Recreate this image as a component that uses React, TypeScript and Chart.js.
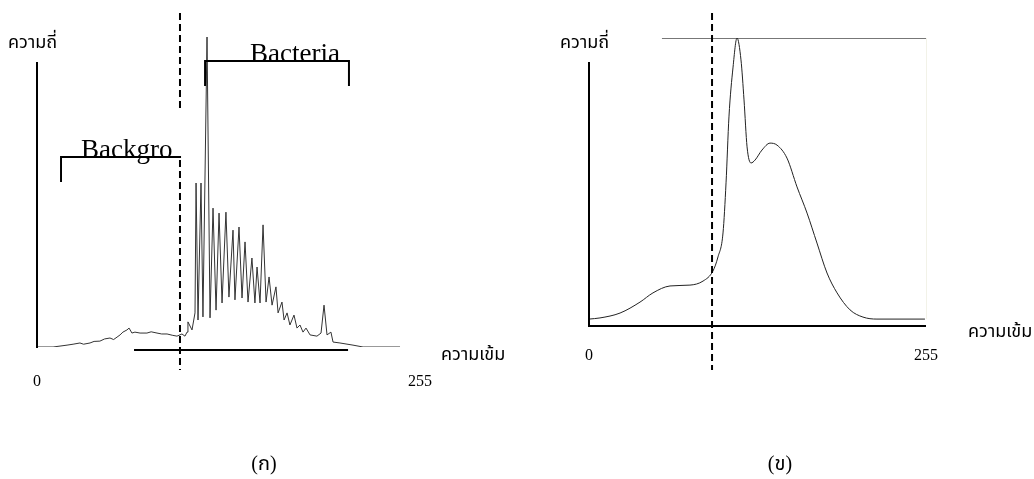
import React, { useEffect, useRef } from "react";
import { Chart, registerables } from "chart.js";
Chart.register(...registerables);

// ---------- data ----------
// Panel (ก): raw grey-level histogram
const rawIntensity = [0, 10.7, 20, 24, 28.6, 31, 35.3, 38, 41.9, 45, 48.6, 51, 53.3, 55.3, 57.2, 59.9, 61.3, 63.2, 65.2, 68.6, 73.2, 76, 79.9, 83, 86.6, 90, 93.2, 96.5, 98.5, 99.9, 100.5, 103.2, 105.2, 105.9, 107.2, 109.2, 110.5, 113.2, 115.2, 117.2, 119.2, 121.2, 123.2, 125.8, 127.8, 130.5, 131.8, 134.5, 136.5, 138.5, 140.5, 143.1, 145.1, 146.5, 148.5, 150.5, 152.5, 154.5, 156.5, 159.1, 160.5, 163.1, 164.5, 166.5, 168.4, 171.1, 173.1, 175.1, 177.1, 179.1, 181.8, 186.4, 189.1, 191.1, 193.1, 195.7, 197.1, 201.7, 210.4, 217.1, 241.7];
const rawFrequency = [0, 0, 0.6, 0.9, 1.3, 0.9, 1.3, 1.8, 1.9, 2.6, 2.9, 2.4, 3.2, 3.9, 4.8, 5.5, 6.1, 4.5, 4.8, 4.5, 4.5, 4.9, 4.5, 4.2, 4.2, 3.8, 3.5, 4.2, 3.5, 4.8, 8.1, 5.5, 11.0, 52.9, 8.7, 52.9, 9.7, 100, 9.4, 44.8, 11.9, 43.2, 14.2, 43.5, 16.1, 37.7, 15.2, 38.7, 15.8, 33.9, 14.5, 28.7, 14.2, 25.8, 14.2, 39.4, 14.5, 22.6, 13.5, 19.4, 11.0, 14.5, 8.7, 11.0, 7.1, 10.3, 6.1, 7.1, 4.8, 6.1, 3.9, 3.5, 4.5, 13.5, 3.9, 4.8, 1.6, 1.3, 0.6, 0, 0];

// Panel (ข): smoothed histogram
const smoothIntensity = [0, 8.3, 23.5, 38.6, 48.4, 61.3, 76.4, 86.3, 93.8, 97.6, 101.4, 103.7, 105.9, 109, 112, 115, 117.3, 119.6, 122.6, 125.6, 130.9, 137, 142.3, 149.8, 157.4, 165, 172.5, 180.1, 187.7, 197.5, 207.3, 217.9, 254.2];
const smoothFrequency = [2.4, 2.8, 4.5, 8.3, 11.5, 13.9, 14.2, 15.6, 19.1, 24, 32.3, 49.7, 72.6, 89.9, 100, 92.4, 78.5, 62.2, 56.6, 57.6, 61.1, 63.5, 62.8, 58.3, 48.3, 39.2, 28.8, 18.4, 11.5, 5.6, 3.1, 2.4, 2.4];

const xTickValues = [0, 255];
const thresholdRaw = 95.2;
const thresholdSmooth = 93.1;
const backgroundRange = [16, 95.9];
const bacteriaRange = [111.9, 207.7];
const baseBarRange = [64.6, 207.1];
const yAxisLabel = "ความถี่";
const xAxisLabel = "ความเข้ม";
const panelLabels = ["(ก)", "(ข)"];
const regionLabels = ["Backgro", "Bacteria"];

// ---------- layout ----------
const W = 1034;
const H = 479;
const SERIF = '"Liberation Serif", "Times New Roman", serif';
const THAI = '"Noto Sans Thai", "Noto Serif Thai", "Loma", "Garuda", "Norasi", sans-serif';

function seg(ctx: CanvasRenderingContext2D, x1: number, y1: number, x2: number, y2: number) {
  ctx.beginPath();
  ctx.moveTo(x1, y1);
  ctx.lineTo(x2, y2);
  ctx.stroke();
}

const leftDecor = {
  id: "leftDecor",
  afterDraw(chart: any) {
    const ctx: CanvasRenderingContext2D = chart.ctx;
    const X = (v: number) => chart.scales.x.getPixelForValue(v);
    const Y = (v: number) => chart.scales.y.getPixelForValue(v);
    ctx.save();
    ctx.strokeStyle = "#000";
    ctx.fillStyle = "#000";
    ctx.lineWidth = 2;
    // y axis
    seg(ctx, X(0), 62, X(0), Y(0) + 1);
    // base bar
    seg(ctx, X(baseBarRange[0]), Y(0) + 3, X(baseBarRange[1]), Y(0) + 3);
    // region labels
    ctx.font = `27px ${SERIF}`;
    ctx.textAlign = "left";
    ctx.textBaseline = "alphabetic";
    ctx.fillText(regionLabels[0], 81, 158);
    ctx.fillText(regionLabels[1], 250, 62);
    // brackets
    const bgy = 157;
    seg(ctx, X(backgroundRange[0]), bgy, X(backgroundRange[1]), bgy);
    seg(ctx, X(backgroundRange[0]), bgy - 1, X(backgroundRange[0]), 182);
    const bay = 61;
    seg(ctx, X(bacteriaRange[0]), bay, X(bacteriaRange[1]), bay);
    seg(ctx, X(bacteriaRange[0]), bay - 1, X(bacteriaRange[0]), 86);
    seg(ctx, X(bacteriaRange[1]), bay - 1, X(bacteriaRange[1]), 86);
    // threshold dashed
    ctx.setLineDash([7, 4]);
    seg(ctx, X(thresholdRaw), 13, X(thresholdRaw), 108);
    seg(ctx, X(thresholdRaw), 160, X(thresholdRaw), 370);
    ctx.setLineDash([]);
    // tick labels
    ctx.font = `16px ${SERIF}`;
    ctx.textAlign = "center";
    xTickValues.forEach((v) => ctx.fillText(String(v), X(v), 386));
    // axis titles
    ctx.font = `18px ${THAI}`;
    ctx.textAlign = "left";
    ctx.fillText(yAxisLabel, 8, 48);
    ctx.fillText(xAxisLabel, 441, 360);
    // panel label
    ctx.font = `20px ${SERIF}, ${THAI}`;
    ctx.textAlign = "center";
    ctx.fillText(panelLabels[0], 264, 470);
    ctx.restore();
  },
};

const rightDecor = {
  id: "rightDecor",
  beforeDatasetsDraw(chart: any) {
    const ctx: CanvasRenderingContext2D = chart.ctx;
    const X = (v: number) => chart.scales.x.getPixelForValue(v);
    const Y = (v: number) => chart.scales.y.getPixelForValue(v);
    ctx.save();
    ctx.lineWidth = 1;
    ctx.strokeStyle = "#f2f2e8";
    seg(ctx, X(255) + 0.5, Y(100), X(255) + 0.5, Y(2.4));
    ctx.strokeStyle = "#777";
    seg(ctx, X(55.2), Y(100) + 0.5, X(255), Y(100) + 0.5);
    ctx.restore();
  },
  afterDraw(chart: any) {
    const ctx: CanvasRenderingContext2D = chart.ctx;
    const X = (v: number) => chart.scales.x.getPixelForValue(v);
    const Y = (v: number) => chart.scales.y.getPixelForValue(v);
    ctx.save();
    ctx.strokeStyle = "#000";
    ctx.fillStyle = "#000";
    ctx.lineWidth = 2;
    seg(ctx, X(0), 62, X(0), Y(0) + 1);
    seg(ctx, X(0), Y(0), X(255), Y(0));
    ctx.setLineDash([7, 4]);
    seg(ctx, X(thresholdSmooth), 13, X(thresholdSmooth), 370);
    ctx.setLineDash([]);
    ctx.font = `16px ${SERIF}`;
    ctx.textAlign = "center";
    xTickValues.forEach((v) => ctx.fillText(String(v), X(v), 360));
    ctx.font = `18px ${THAI}`;
    ctx.textAlign = "left";
    ctx.fillText(yAxisLabel, 560, 48);
    ctx.fillText(xAxisLabel, 968, 337);
    ctx.font = `20px ${SERIF}, ${THAI}`;
    ctx.textAlign = "center";
    ctx.fillText(panelLabels[1], 780, 470);
    ctx.restore();
  },
};

function makeChart(
  canvas: HTMLCanvasElement,
  xs: number[],
  ys: number[],
  pad: { left: number; right: number; top: number; bottom: number },
  smooth: boolean,
  plugin: any
) {
  return new Chart(canvas, {
    type: "line",
    data: {
      datasets: [
        {
          data: xs.map((x, i) => ({ x, y: ys[i] })),
          borderColor: smooth ? "#222" : "#333",
          borderWidth: 1,
          pointRadius: 0,
          fill: false,
          tension: smooth ? 0.4 : 0,
          cubicInterpolationMode: smooth ? "monotone" : "default",
        },
      ],
    },
    options: {
      responsive: false,
      animation: false,
      layout: { padding: pad },
      plugins: { legend: { display: false }, tooltip: { enabled: false } },
      scales: {
        x: { type: "linear", min: 0, max: 255, display: false },
        y: { type: "linear", min: 0, max: 100, display: false },
      },
    },
    plugins: [plugin],
  } as any);
}

export default function App() {
  const leftRef = useRef<HTMLCanvasElement>(null);
  const rightRef = useRef<HTMLCanvasElement>(null);
  useEffect(() => {
    const a = makeChart(leftRef.current!, rawIntensity, rawFrequency, { left: 37, right: W - 420, top: 37, bottom: H - 347 }, false, leftDecor);
    const b = makeChart(rightRef.current!, smoothIntensity, smoothFrequency, { left: 589, right: W - 926, top: 38, bottom: H - 326 }, true, rightDecor);
    return () => {
      a.destroy();
      b.destroy();
    };
  }, []);
  const cs: React.CSSProperties = { position: "absolute", left: 0, top: 0, width: W, height: H };
  return (
    <div style={{ position: "absolute", left: 0, top: 0, width: W, height: H, background: "#fff" }}>
      <canvas ref={leftRef} width={W} height={H} style={cs} />
      <canvas ref={rightRef} width={W} height={H} style={cs} />
    </div>
  );
}
